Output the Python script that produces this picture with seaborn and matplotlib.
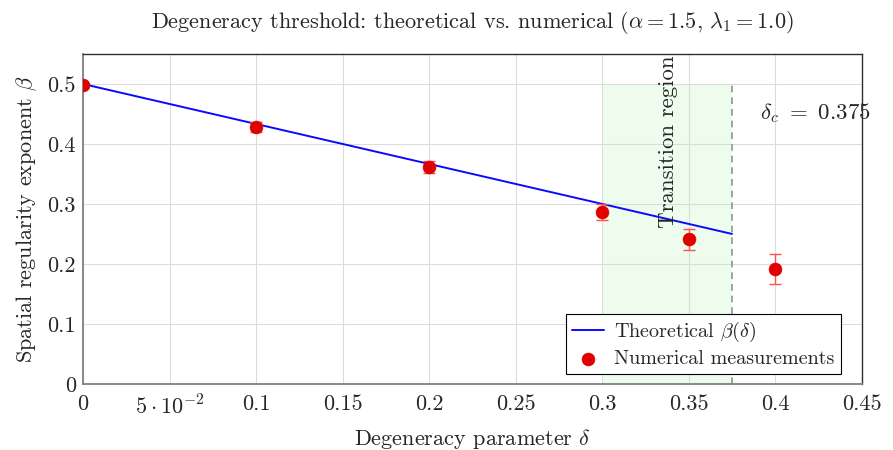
import matplotlib
matplotlib.use('Agg')
import matplotlib.pyplot as plt
import seaborn as sns
import pandas as pd

# 데이터
delta_theory = [0.0, 0.375]
beta_theory = [0.5, 0.25]

delta_num = [0.0, 0.1, 0.2, 0.3, 0.35, 0.4]
beta_num = [0.498, 0.428, 0.361, 0.287, 0.241, 0.191]
beta_err = [0.004, 0.008, 0.010, 0.013, 0.018, 0.025]

x_ticks = [0, 0.05, 0.1, 0.15, 0.2, 0.25, 0.3, 0.35, 0.4, 0.45]
x_tick_labels = ['0', r'$5\cdot10^{-2}$', '0.1', '0.15', '0.2', '0.25', '0.3', '0.35', '0.4', '0.45']
y_ticks = [0, 0.1, 0.2, 0.3, 0.4, 0.5]
y_tick_labels = ['0', '0.1', '0.2', '0.3', '0.4', '0.5']

delta_c = 0.375
region_start = 0.3

sns.set_style('whitegrid')
plt.rcParams['font.family'] = ['cmr10', 'DejaVu Serif']
plt.rcParams['mathtext.fontset'] = 'cm'
plt.rcParams['axes.unicode_minus'] = False
plt.rcParams['grid.color'] = '#dcdcdc'

theory_df = pd.DataFrame({'delta': delta_theory, 'beta': beta_theory})
num_df = pd.DataFrame({'delta': delta_num, 'beta': beta_num, 'err': beta_err})

fig, ax = plt.subplots(figsize=(8.93, 4.5), dpi=100)
fig.subplots_adjust(left=0.093, right=0.965, top=0.88, bottom=0.147)

# 전이 구간
ax.fill_between([region_start, delta_c], 0, 0.5, color='#edfced', zorder=0.5, linewidth=0)
ax.plot([delta_c, delta_c], [0, 0.5], color='#8a9a8a', linestyle=(0, (4, 3)), linewidth=1.2, zorder=1)

sns.lineplot(data=theory_df, x='delta', y='beta', ax=ax, color='#0a0aff', linewidth=1.4,
             label=r'Theoretical $\beta(\delta)$', zorder=3)
ax.errorbar(num_df['delta'], num_df['beta'], yerr=num_df['err'], fmt='none',
            ecolor='#ff5050', elinewidth=1.0, capsize=4, capthick=1.0, zorder=4)
sns.scatterplot(data=num_df, x='delta', y='beta', ax=ax, color='#e00000', s=85,
                edgecolor='#e00000', linewidth=0.5, label='Numerical measurements', zorder=5)

ax.text(0.338, 0.403, 'Transition region', rotation=90, ha='center', va='center', fontsize=16.5)
ax.text(0.423, 0.452, r'$\delta_c\ =\ 0.375$', ha='center', va='center', fontsize=16.5)

ax.set_xlim(0, 0.45)
ax.set_ylim(0, 0.55)
ax.set_xticks(x_ticks)
ax.set_xticklabels(x_tick_labels, fontsize=16)
ax.set_yticks(y_ticks)
ax.set_yticklabels(y_tick_labels, fontsize=16)
ax.tick_params(axis='y', length=0, pad=5)
ax.tick_params(axis='x', length=0, pad=8)

ax.set_xlabel(r'Degeneracy parameter $\delta$', fontsize=16, labelpad=6)
ax.set_ylabel(r'Spatial regularity exponent $\beta$', fontsize=16, labelpad=6)
ax.set_title(r'Degeneracy threshold: theoretical vs. numerical ($\alpha = 1.5$, $\lambda_1 = 1.0$)',
             fontsize=16, pad=19)

for side in ['left', 'bottom']:
    ax.spines[side].set_color('#808080')
    ax.spines[side].set_linewidth(1.3)
for side in ['right', 'top']:
    ax.spines[side].set_color('#303030')
    ax.spines[side].set_linewidth(1.0)

leg = ax.legend(loc='lower right', bbox_to_anchor=(0.973, 0.03), fontsize=14.5, frameon=True,
                fancybox=False, edgecolor='black', framealpha=1, borderaxespad=0,
                handlelength=1.6, handletextpad=0.5, labelspacing=0.3, borderpad=0.3)
leg.get_frame().set_linewidth(0.8)

fig.savefig('out.png', dpi=100)
